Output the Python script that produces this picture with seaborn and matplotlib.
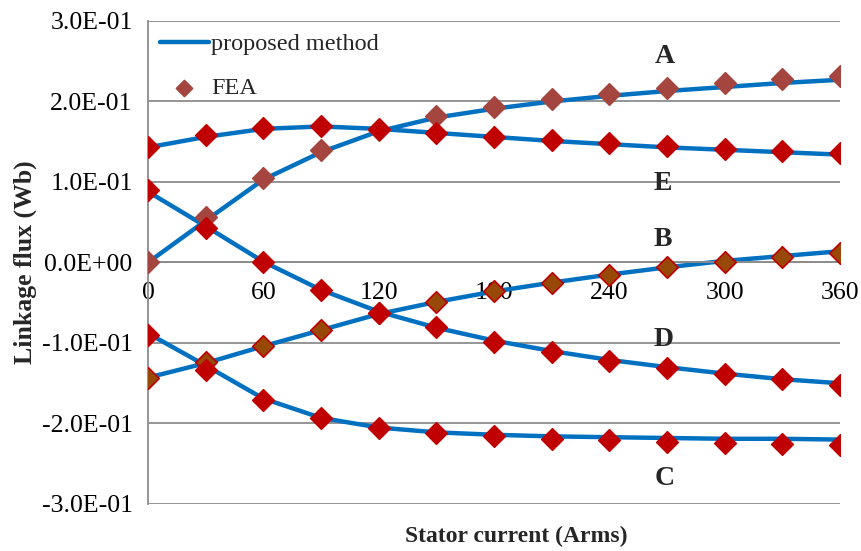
import numpy as np
import pandas as pd
import matplotlib
matplotlib.use("Agg")
import matplotlib.pyplot as plt
import seaborn as sns
from matplotlib.ticker import FuncFormatter

current = [0, 30, 60, 90, 120, 150, 180, 210, 240, 270, 300, 330, 360]

# FEA points
fea_A = [0.000, 0.057, 0.105, 0.140, 0.165, 0.182, 0.193, 0.203, 0.209, 0.217, 0.223, 0.228, 0.232]
fea_E = [0.144, 0.158, 0.167, 0.170, 0.166, 0.161, 0.156, 0.152, 0.149, 0.145, 0.141, 0.139, 0.136]
fea_B = [-0.144, -0.123, -0.104, -0.084, -0.063, -0.049, -0.036, -0.025, -0.015, -0.005, 0.001, 0.007, 0.012]
fea_D = [0.090, 0.043, 0.000, -0.034, -0.063, -0.080, -0.099, -0.111, -0.122, -0.131, -0.139, -0.145, -0.152]
fea_C = [-0.090, -0.134, -0.171, -0.193, -0.206, -0.212, -0.216, -0.219, -0.221, -0.223, -0.224, -0.226, -0.227]

# proposed method curves
model_A = [0.000, 0.052, 0.103, 0.137, 0.163, 0.180, 0.191, 0.200, 0.207, 0.213, 0.218, 0.223, 0.227]
model_E = [0.143, 0.156, 0.166, 0.169, 0.166, 0.161, 0.156, 0.151, 0.147, 0.143, 0.140, 0.137, 0.134]
model_B = [-0.143, -0.125, -0.104, -0.084, -0.064, -0.049, -0.036, -0.025, -0.015, -0.006, 0.002, 0.008, 0.014]
model_D = [0.088, 0.045, 0.001, -0.034, -0.061, -0.081, -0.097, -0.110, -0.121, -0.130, -0.138, -0.145, -0.150]
model_C = [-0.088, -0.128, -0.169, -0.193, -0.205, -0.211, -0.214, -0.216, -0.217, -0.218, -0.219, -0.219, -0.220]

curve_names = ["A", "B", "C", "D", "E"]
label_x = [269, 268, 269, 268, 268]
label_y = [0.256, 0.028, -0.268, -0.096, 0.098]

sns.set_style("white")
plt.rcParams["font.family"] = ["Liberation Serif", "DejaVu Serif"]

fig = plt.figure(figsize=(8.61, 5.51), dpi=100)
ax = fig.add_axes([0.1719, 0.0853, 0.8037, 0.8766])

blue = "#0070C0"
models = {"A": model_A, "B": model_B, "C": model_C, "D": model_D, "E": model_E}
feas = {"A": fea_A, "B": fea_B, "C": fea_C, "D": fea_D, "E": fea_E}
face = {"A": "#A5453F", "B": "#984807", "C": "#C00000", "D": "#C00000", "E": "#C00000"}
edge = {"A": "#A5453F", "B": "#C00000", "C": "#C00000", "D": "#C00000", "E": "#C00000"}

for k in curve_names:
    sns.lineplot(x=current, y=models[k], ax=ax, color=blue, linewidth=3.2,
                 label="proposed method" if k == "A" else None, zorder=2)
for k in ["A", "E", "B", "D", "C"]:
    sns.scatterplot(x=current, y=feas[k], ax=ax, marker="D", s=120,
                    color=face[k], edgecolor=edge[k], linewidth=1.2,
                    label="FEA" if k == "A" else None, zorder=3)

for name, lx, ly in zip(curve_names, label_x, label_y):
    ax.text(lx, ly, name, fontsize=20, fontweight="bold", ha="center", va="center")

ax.set_xlim(0, 360)
ax.set_ylim(-0.3, 0.3)
ax.set_xticks([0, 60, 120, 180, 240, 300, 360])
ax.set_yticks(np.arange(-0.3, 0.31, 0.1))
ax.yaxis.set_major_formatter(FuncFormatter(lambda v, p: f"{round(v, 3) + 0.0:.1E}"))

ax.grid(axis="y", color="#8C8C8C", linewidth=1.3)
ax.grid(axis="x", visible=False)
ax.spines["top"].set_visible(False)
ax.spines["right"].set_visible(False)
ax.spines["bottom"].set_position(("data", 0))
for s in ["left", "bottom"]:
    ax.spines[s].set_color("#8C8C8C")
    ax.spines[s].set_linewidth(1.3)
ax.tick_params(axis="both", direction="out", length=6, color="#8C8C8C", width=1.3,
               labelsize=18.5, labelcolor="black")
ax.tick_params(axis="x", pad=8)
ax.tick_params(axis="y", pad=5)

ax.set_xlabel("Stator current (Arms)", fontsize=17, fontweight="bold")
ax.xaxis.set_label_coords(0.532, -0.045)
ax.set_ylabel("Linkage flux (Wb)", fontsize=18.5, fontweight="bold")
ax.yaxis.set_label_coords(-0.16, 0.5)

leg = ax.legend(loc="upper left", frameon=False, fontsize=17.5, handlelength=2.0,
                labelspacing=0.9, borderaxespad=0.1, handletextpad=0.1,
                markerscale=0.75, bbox_to_anchor=(0.0, 1.0))

fig.savefig("out.png", dpi=100)
